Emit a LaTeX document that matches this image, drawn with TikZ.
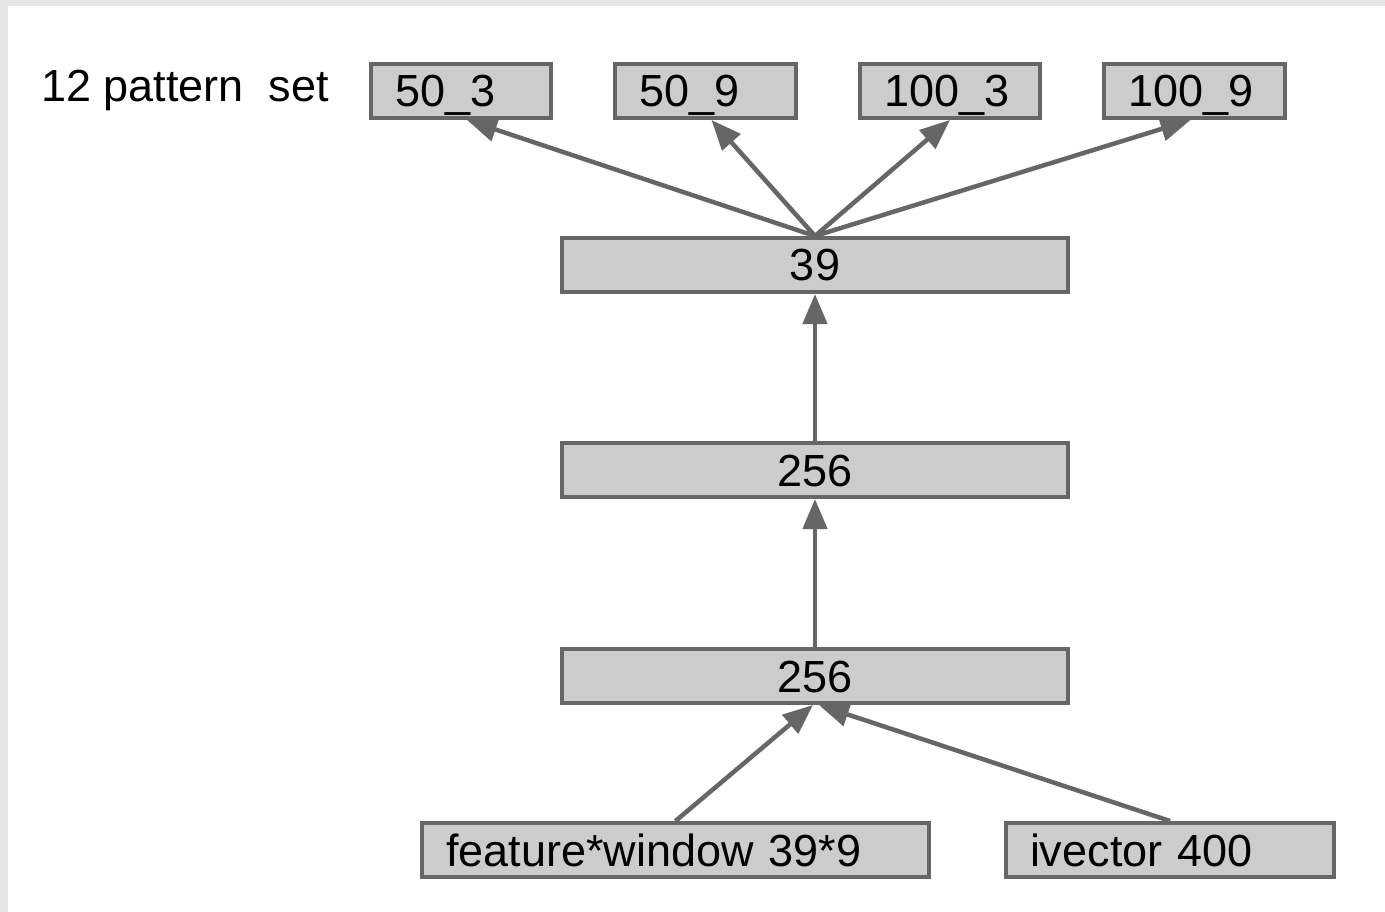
\documentclass[tikz,border=0pt]{standalone}
\usepackage{fontspec}
\setmainfont{Liberation Sans}
\usetikzlibrary{arrows.meta}
\definecolor{edgegray}{HTML}{666666}
\definecolor{boxfill}{HTML}{CCCCCC}
\definecolor{framegray}{HTML}{E6E6E6}
\begin{document}
\begin{tikzpicture}[x=1pt,y=-1pt,
  every node/.style={font=\fontsize{45}{54}\selectfont},
  layer/.style={draw=edgegray, line width=4pt, fill=boxfill,
    minimum height=54pt, inner ysep=0pt, text height=41pt, text depth=9pt},
  leftbox/.style={layer, inner xsep=24pt, align=left, text width=#1-48pt},
  midbox/.style={layer, inner xsep=0pt, minimum width=#1},
  conn/.style={draw=edgegray, line width=4.5pt,
    -{Triangle[length=30pt,width=24pt]}}]
\useasboundingbox (0,0) rectangle (1385,912);
\fill[white] (0,0) rectangle (1385,912);
\fill[framegray] (0,0) rectangle (1385,6);
\fill[framegray] (0,0) rectangle (8,912);

\node[anchor=base west, inner sep=0pt] (title) at (41,102) {12 pattern\ \ set};

\node[leftbox=180pt] (p503) at (461,91) {50\_3};
\node[leftbox=181pt] (p509) at (705.5,91) {50\_9};
\node[leftbox=180pt] (p1003) at (950,91) {100\_3};
\node[leftbox=181pt] (p1009) at (1194.5,91) {100\_9};

\node[midbox=506pt] (l39) at (815,265) {39};
\node[midbox=506pt] (l256a) at (815,470) {256};
\node[midbox=506pt] (l256b) at (815,676) {256};

\node[leftbox=507pt] (feat) at (675.5,850) {feature*window 39*9};
\node[leftbox=328pt] (ivec) at (1170,850) {ivector 400};

\draw[conn] (l39.north) -- ([xshift=6pt]p503.south);
\draw[conn] (l39.north) -- ([xshift=6pt]p509.south);
\draw[conn] (l39.north) -- (p1003.south);
\draw[conn] (l39.north) -- ([xshift=-4pt]p1009.south);
\draw[conn] (l256a.north) -- (l39.south);
\draw[conn] (l256b.north) -- (l256a.south);
\draw[conn] (feat.north) -- ([xshift=-2pt]l256b.south);
\draw[conn] (ivec.north) -- ([xshift=4pt]l256b.south);
\end{tikzpicture}
\end{document}
